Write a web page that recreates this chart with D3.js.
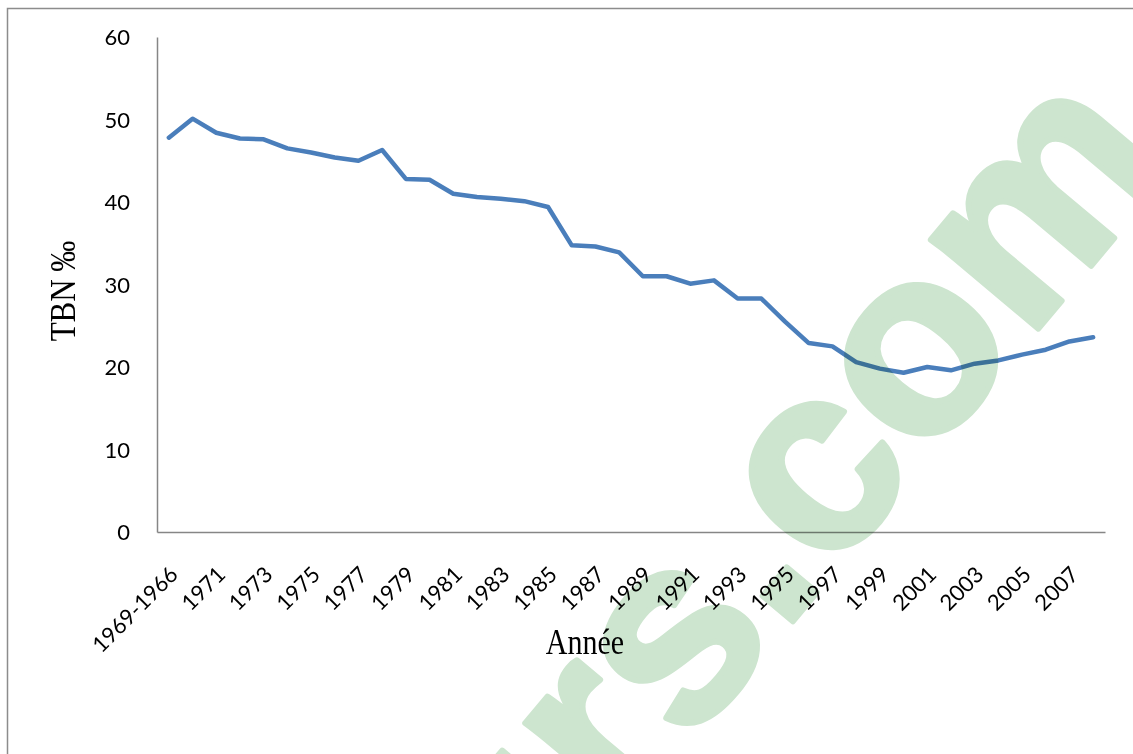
<!DOCTYPE html>
<html lang="fr">
<head>
  <meta charset="UTF-8">
  <script src="https://d3js.org/d3.v7.min.js"></script>
  <style>
    body {
      margin: 0;
      padding: 0;
      background-color: #fff;
    }
    svg {
      display: block;
    }
    .watermark {
      mix-blend-mode: multiply;
    }
  </style>
</head>
<body>
  <div id="chart"></div>
  <script>
    // categories (first one is a grouped period)
    const years = ["1969-1966", "1970", "1971", "1972", "1973", "1974", "1975", "1976", "1977", "1978",
      "1979", "1980", "1981", "1982", "1983", "1984", "1985", "1986", "1987", "1988",
      "1989", "1990", "1991", "1992", "1993", "1994", "1995", "1996", "1997", "1998",
      "1999", "2000", "2001", "2002", "2003", "2004", "2005", "2006", "2007", "2008"];

    // TBN ‰
    const tbn = [47.8, 50.1, 48.4, 47.7, 47.6, 46.5, 46.0, 45.4, 45.0, 46.3,
      42.8, 42.7, 41.0, 40.6, 40.4, 40.1, 39.4, 34.75, 34.6, 33.9,
      31.0, 31.0, 30.1, 30.5, 28.3, 28.3, 25.5, 22.9, 22.5, 20.6,
      19.8, 19.3, 20.0, 19.6, 20.4, 20.8, 21.5, 22.1, 23.1, 23.6];

    const yTicks = [0, 10, 20, 30, 40, 50, 60];
    const xTickLabels = years.filter((d, i) => i % 2 === 0);

    const width = 1133, height = 754;
    const margin = { left: 157, right: 28, top: 37, bottom: 222 };

    const svg = d3.select("#chart")
      .append("svg")
      .attr("width", width)
      .attr("height", height);

    // outer frame (cropped on right and bottom)
    svg.append("rect")
      .attr("x", 7.5)
      .attr("y", 8.5)
      .attr("width", width + 20)
      .attr("height", height + 20)
      .attr("fill", "none")
      .attr("stroke", "#8c8c8c")
      .attr("stroke-width", 1.5);

    const x = d3.scalePoint()
      .domain(years)
      .range([margin.left, width - margin.right])
      .padding(0.5);

    const y = d3.scaleLinear()
      .domain([0, 60])
      .range([height - margin.bottom, margin.top]);

    const yAxis = svg.append("g")
      .attr("transform", `translate(${margin.left},0)`)
      .call(d3.axisLeft(y).tickValues(yTicks).tickSize(0).tickPadding(27));

    const xAxis = svg.append("g")
      .attr("transform", `translate(0,${height - margin.bottom})`)
      .call(d3.axisBottom(x).tickValues(xTickLabels).tickSize(0).tickPadding(0));

    [yAxis, xAxis].forEach(a => {
      a.select(".domain").attr("stroke", "#868686").attr("stroke-width", 1.5);
      a.selectAll("text")
        .attr("fill", "#000")
        .style("font-family", "Lato, 'Open Sans', sans-serif")
        .style("font-size", "22px");
    });

    yAxis.selectAll("text").attr("dy", "0.36em");

    xAxis.selectAll("text")
      .attr("text-anchor", "end")
      .attr("dy", 0)
      .attr("y", 0)
      .attr("transform", "translate(10,44) rotate(-45)");

    const line = d3.line()
      .x((d, i) => x(years[i]))
      .y(d => y(d));

    svg.append("path")
      .datum(tbn)
      .attr("d", line)
      .attr("fill", "none")
      .attr("stroke", "#4a7ebb")
      .attr("stroke-width", 4.5)
      .attr("stroke-linejoin", "round")
      .attr("stroke-linecap", "round");

    // axis titles
    svg.append("text")
      .attr("transform", "translate(75,291) rotate(-90) scale(1,1.15)")
      .attr("text-anchor", "middle")
      .style("font-family", "'Liberation Serif', 'Times New Roman', serif")
      .style("font-size", "31px")
      .text("TBN ‰");

    svg.append("text")
      .attr("transform", "translate(585,654) scale(1,1.18)")
      .attr("text-anchor", "middle")
      .style("font-family", "'Liberation Serif', 'Times New Roman', serif")
      .style("font-size", "30px")
      .text("Année");

    // site watermark drawn over the chart
    svg.append("g")
      .attr("class", "watermark")
      .attr("transform", "translate(830,468) rotate(-50)")
      .append("text")
      .attr("x", -570)
      .attr("y", 70)
      .attr("fill", "#cde5cf")
      .attr("stroke", "#cde5cf")
      .attr("stroke-width", 6)
      .attr("stroke-linejoin", "round")
      .style("font-family", "'Liberation Sans', Arial, sans-serif")
      .style("font-weight", "bold")
      .style("font-size", "264px")
      .text("urs.com");
  </script>
</body>
</html>
